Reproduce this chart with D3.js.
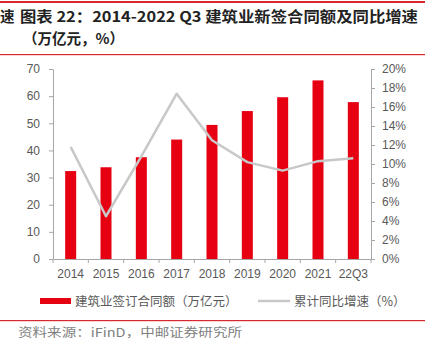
<!DOCTYPE html>
<html>
<head>
<meta charset="utf-8">
<script src="https://d3js.org/d3.v7.min.js"></script>
<style>
  body { margin: 0; background: #fff; }
  text { font-family: "Liberation Sans", Arial, sans-serif; }
</style>
</head>
<body>
<svg width="431" height="354"></svg>
<script>
// data
var categories = ["2014", "2015", "2016", "2017", "2018", "2019", "2020", "2021", "22Q3"];
var contractValues = [32.4, 33.8, 37.5, 44.0, 49.4, 54.5, 59.6, 65.8, 57.8];
var growthRates = [11.8, 4.5, 10.8, 17.4, 12.5, 10.2, 9.3, 10.3, 10.6];
var leftTicks = [0, 10, 20, 30, 40, 50, 60, 70];
var rightTicks = [0, 2, 4, 6, 8, 10, 12, 14, 16, 18, 20];

var svg = d3.select("svg");
var cjk = '"Noto Sans CJK SC", sans-serif';

// header lines
svg.append("rect").attr("x", 0).attr("y", 1).attr("width", 425).attr("height", 2).attr("fill", "#d9282f");
svg.append("rect").attr("x", 0).attr("y", 54).attr("width", 425).attr("height", 1.2).attr("fill", "#d9282f");
svg.append("rect").attr("x", 0).attr("y", 320).attr("width", 425).attr("height", 1.2).attr("fill", "#d9282f");

svg.append("text").attr("x", 0).attr("y", 22)
  .style("font-family", cjk).style("font-size", "14.5px").style("font-weight", "bold").attr("fill", "#222")
  .text("速");
svg.append("text").attr("x", 20).attr("y", 22)
  .style("font-family", cjk).style("font-size", "14.5px").style("font-weight", "bold").attr("fill", "#222")
  .attr("textLength", 398).attr("lengthAdjust", "spacingAndGlyphs")
  .text("图表 22：2014-2022 Q3 建筑业新签合同额及同比增速");
svg.append("text").attr("x", 23).attr("y", 44)
  .style("font-family", cjk).style("font-size", "14.5px").style("font-weight", "bold").attr("fill", "#222")
  .text("（万亿元，%）");

// scales
var x0 = 53, x1 = 371, yTop = 69, yBot = 259;
var x = d3.scaleBand().domain(categories).range([x0, x1]).paddingInner(0).paddingOuter(0);
var yL = d3.scaleLinear().domain([0, 70]).range([yBot, yTop]);
var yR = d3.scaleLinear().domain([0, 20]).range([yBot, yTop]);

var axisColor = "#a6a6a6", labelColor = "#595959";

// bars
svg.append("g").selectAll("rect").data(contractValues).join("rect")
  .attr("x", function(d, i) { return x(categories[i]) + x.bandwidth() / 2 - 5.5; })
  .attr("y", function(d) { return yL(d); })
  .attr("width", 11)
  .attr("height", function(d) { return yBot - yL(d); })
  .attr("fill", "#e60012");

// line
var line = d3.line()
  .x(function(d, i) { return x(categories[i]) + x.bandwidth() / 2; })
  .y(function(d) { return yR(d); });
svg.append("path").datum(growthRates)
  .attr("d", line).attr("fill", "none")
  .attr("stroke", "#c8c8c8").attr("stroke-width", 2.5).attr("stroke-linejoin", "round");

// axes
function styleAxis(g) {
  g.select(".domain").attr("stroke", axisColor);
  g.selectAll(".tick line").attr("stroke", axisColor);
  g.selectAll(".tick text").attr("fill", labelColor).style("font-size", "12px")
    .style("font-family", '"Liberation Sans", Arial, sans-serif');
}

var gl = svg.append("g").attr("transform", "translate(" + x0 + ",0)")
  .call(d3.axisLeft(yL).tickValues(leftTicks).tickSize(4).tickSizeOuter(0).tickPadding(9));
styleAxis(gl);

var gr = svg.append("g").attr("transform", "translate(" + x1 + ",0)")
  .call(d3.axisRight(yR).tickValues(rightTicks).tickSize(4).tickSizeOuter(0).tickPadding(7)
    .tickFormat(function(d) { return d + "%"; }));
styleAxis(gr);

var gb = svg.append("g").attr("transform", "translate(0," + yBot + ")")
  .call(d3.axisBottom(x).tickSize(0).tickPadding(10));
styleAxis(gb);
// category boundary ticks
gb.selectAll(".sep").data(d3.range(categories.length + 1)).join("line")
  .attr("class", "sep")
  .attr("x1", function(i) { return x0 + i * x.step(); })
  .attr("x2", function(i) { return x0 + i * x.step(); })
  .attr("y1", 0).attr("y2", 4).attr("stroke", axisColor);

// legend
svg.append("rect").attr("x", 40).attr("y", 298).attr("width", 31).attr("height", 6).attr("fill", "#e60012");
svg.append("text").attr("x", 75).attr("y", 306)
  .style("font-family", cjk).style("font-size", "12.5px").attr("fill", labelColor)
  .text("建筑业签订合同额（万亿元）");
svg.append("line").attr("x1", 258).attr("x2", 290).attr("y1", 301).attr("y2", 301)
  .attr("stroke", "#c8c8c8").attr("stroke-width", 2.5);
svg.append("text").attr("x", 294).attr("y", 306)
  .style("font-family", cjk).style("font-size", "12.5px").attr("fill", labelColor)
  .text("累计同比增速（%）");

// source
svg.append("text").attr("x", 18).attr("y", 337)
  .style("font-family", cjk).style("font-size", "12px").attr("fill", "#7f7f7f")
  .attr("textLength", 224).attr("lengthAdjust", "spacingAndGlyphs")
  .text("资料来源：iFinD，中邮证券研究所");
</script>
</body>
</html>
